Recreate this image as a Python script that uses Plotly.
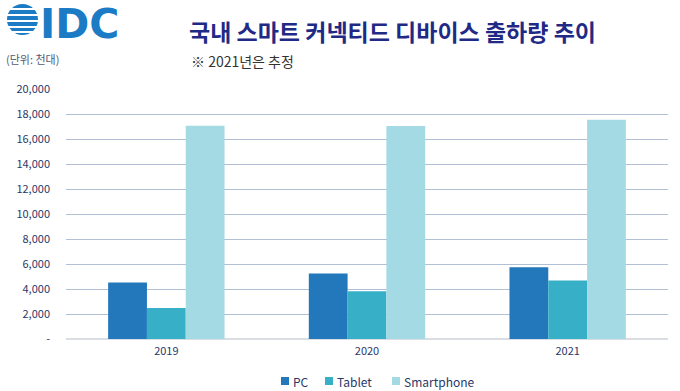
import plotly.graph_objects as go

years = ["2019", "2020", "2021"]
pc = [4520, 5250, 5750]
tablet = [2480, 3820, 4680]
smartphone = [17060, 17050, 17550]
series_names = ["PC", "Tablet", "Smartphone"]
series_colors = ["#2378BC", "#37AFC7", "#A4DAE4"]
y_ticks = [0, 2000, 4000, 6000, 8000, 10000, 12000, 14000, 16000, 18000, 20000]
y_tick_labels = ["-", "2,000", "4,000", "6,000", "8,000", "10,000", "12,000",
                 "14,000", "16,000", "18,000", "20,000"]

KR = "Noto Sans CJK KR"
navy = "#2A3768"
W, H = 680, 391
L, R, T, B = 66, 12, 89, 52
PW, PH = W - L - R, H - T - B


def px(x):
    return (x - L) / PW


def py(y):
    return (H - B - y) / PH


fig = go.Figure()
for name, vals, col in zip(series_names, [pc, tablet, smartphone], series_colors):
    fig.add_trace(go.Bar(name=name, x=years, y=vals, marker=dict(color=col, line=dict(width=0)),
                         showlegend=False))

fig.update_layout(
    width=W, height=H,
    margin=dict(l=L, r=R, t=T, b=B, autoexpand=False),
    paper_bgcolor="white", plot_bgcolor="white",
    barmode="group", bargap=0.42, bargroupgap=0,
    font=dict(family=KR, color=navy, size=11),
    xaxis=dict(showgrid=False, ticks="", showline=False, ticklabelstandoff=4,
               tickfont=dict(size=11, color=navy)),
    yaxis=dict(range=[0, 20000], tickvals=y_ticks, ticktext=y_tick_labels,
               showgrid=True, gridcolor="#B1C0D4", gridwidth=1,
               zeroline=True, zerolinecolor="#DADDE2", zerolinewidth=2,
               ticks="", ticklabelstandoff=15, tickfont=dict(size=11, color=navy)),
)

# Title and notes
fig.add_annotation(text="<b>국내 스마트 커넥티드 디바이스 출하량 추이</b>", xref="paper", yref="paper",
                   x=px(393), y=py(31), showarrow=False,
                   xanchor="center", yanchor="middle", font=dict(size=23, color="#1F2A86", family=KR))
fig.add_annotation(text="※ 2021년은 추정", xref="paper", yref="paper",
                   x=px(189), y=py(61), showarrow=False,
                   xanchor="left", yanchor="middle", font=dict(size=14, color="#333333", family=KR))
fig.add_annotation(text="(단위: 천대)", xref="paper", yref="paper",
                   x=px(4), y=py(59), showarrow=False,
                   xanchor="left", yanchor="middle", font=dict(size=11, color="#555A70", family=KR))

# Legend (manual, compact like the reference)
legend_x = [281, 325, 392]
for name, col, lx in zip(series_names, series_colors, legend_x):
    fig.add_shape(type="rect", xref="paper", yref="paper",
                  x0=px(lx), x1=px(lx + 8), y0=py(385), y1=py(377),
                  fillcolor=col, line=dict(width=0))
    fig.add_annotation(text=name, xref="paper", yref="paper", x=px(lx + 10), y=py(381),
                       showarrow=False, xanchor="left", yanchor="middle",
                       font=dict(size=12, color=navy, family=KR))

# IDC logo
fig.add_annotation(text="<b>IDC</b>", xref="paper", yref="paper",
                   x=px(38), y=py(24), showarrow=False,
                   xanchor="left", yanchor="middle",
                   font=dict(size=41, color="#1B7BC4", family="DejaVu Sans"))
fig.add_shape(type="circle", xref="paper", yref="paper",
              x0=px(7), x1=px(38), y0=py(35), y1=py(4),
              fillcolor="#1B7BC4", line=dict(width=0))
for yy in [9, 15, 21, 27, 32]:
    fig.add_shape(type="line", xref="paper", yref="paper",
                  x0=px(4), x1=px(42), y0=py(yy), y1=py(yy),
                  line=dict(color="white", width=2))

fig.write_html("out.html", config={"displayModeBar": False},
               post_script="document.body.style.margin='0';document.body.style.overflow='hidden';")
